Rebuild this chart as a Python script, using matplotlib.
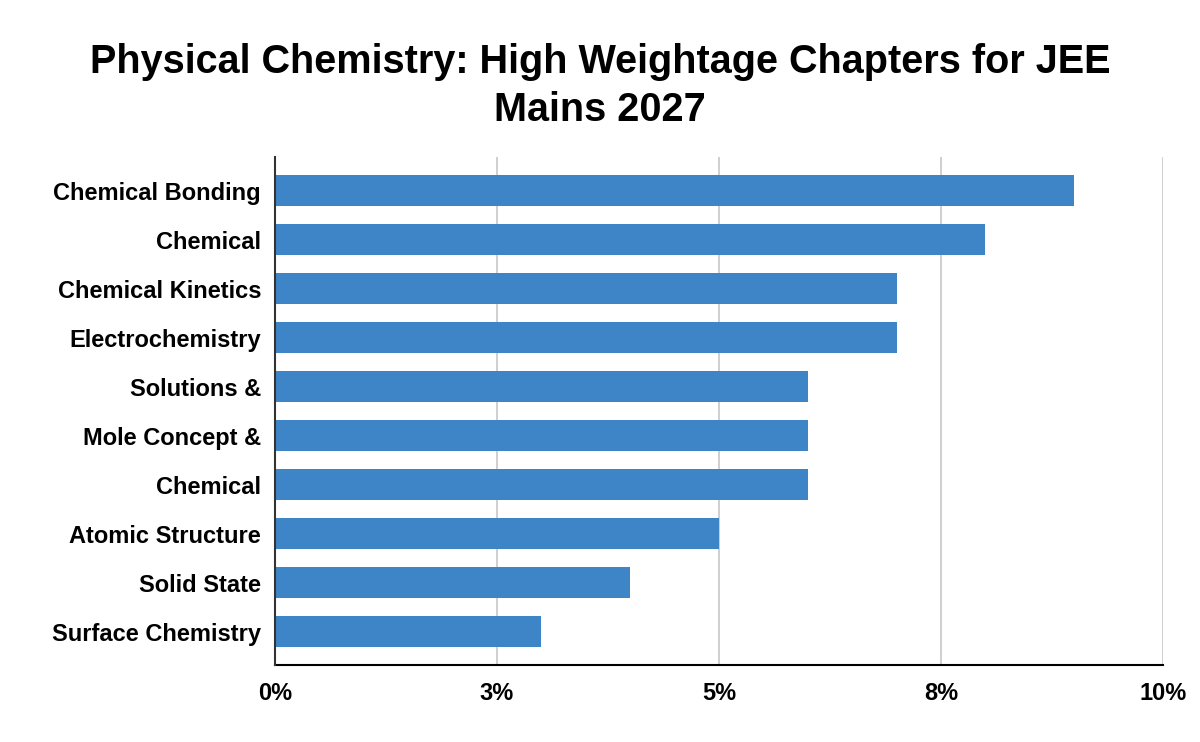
import matplotlib
matplotlib.use("Agg")
import math
import matplotlib.pyplot as plt
from matplotlib.ticker import FuncFormatter

plt.rcParams['font.family'] = ['Liberation Sans', 'DejaVu Sans']

chapters = ['Chemical Bonding', 'Chemical', 'Chemical Kinetics', 'Electrochemistry',
            'Solutions &', 'Mole Concept &', 'Chemical', 'Atomic Structure',
            'Solid State', 'Surface Chemistry']
weightage = [9, 8, 7, 7, 6, 6, 6, 5, 4, 3]
xticks = [0, 2.5, 5, 7.5, 10]

fig = plt.figure(figsize=(12, 7.42), dpi=100)
ax = fig.add_axes([275 / 1200, 1 - 665 / 742, (1163 - 275) / 1200, (665 - 157) / 742])

pos = list(range(len(chapters)))
ax.barh(pos, weightage, height=0.63, color='#3d85c6', zorder=3)
ax.set_yticks(pos)
ax.set_yticklabels(chapters)
ax.set_ylim(9.68, -0.69)

ax.set_xlim(0, 10)
ax.set_xticks(xticks)
# round half up, like the spreadsheet does (2.5 -> 3%)
ax.xaxis.set_major_formatter(FuncFormatter(lambda v, p: f'{math.floor(v + 0.5):d}%'))
ax.grid(axis='x', color='#cccccc', linewidth=1.3, zorder=0)

for s in ['top', 'right']:
    ax.spines[s].set_visible(False)
ax.spines['left'].set_color('#333333')
ax.spines['left'].set_linewidth(1.5)
ax.spines['bottom'].set_color('black')
ax.spines['bottom'].set_linewidth(1.5)
ax.spines['left'].set_zorder(4)
ax.tick_params(axis='both', length=0, labelsize=17)
ax.tick_params(axis='y', pad=10)
ax.tick_params(axis='x', pad=12)
for lab in ax.get_xticklabels() + ax.get_yticklabels():
    lab.set_fontweight('bold')

fig.suptitle('Physical Chemistry: High Weightage Chapters for JEE\nMains 2027',
             x=0.5, y=0.942, fontsize=28.5, fontweight='bold', linespacing=1.33)

fig.savefig('out.png', dpi=100)
